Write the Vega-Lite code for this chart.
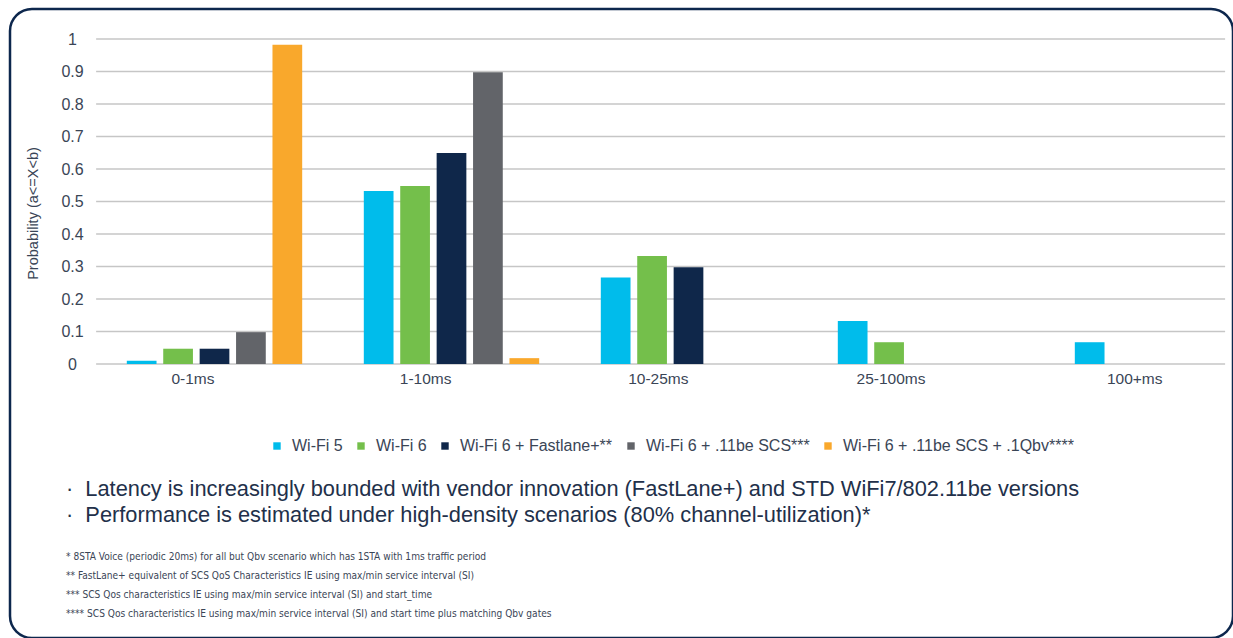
{
  "$schema": "https://vega.github.io/schema/vega-lite/v6.json",
  "width": 1223,
  "height": 629,
  "autosize": {"type": "none"},
  "padding": {"left": 10, "top": 9, "right": 0, "bottom": 0},
  "background": "white",
  "config": {
    "view": {"stroke": "#0D274D", "strokeWidth": 2.5, "cornerRadius": 22},
    "font": "Liberation Sans"
  },
  "title": {
    "text": [
      "·\u00a0\u00a0Latency is increasingly bounded with vendor innovation (FastLane+) and STD WiFi7/802.11be versions",
      "·\u00a0\u00a0Performance is estimated under high-density scenarios (80% channel-utilization)*"
    ],
    "subtitle": [
      "* 8STA Voice (periodic 20ms) for all but Qbv scenario which has 1STA with 1ms traffic period",
      "** FastLane+ equivalent of SCS QoS Characteristics IE using max/min service interval (SI)",
      "*** SCS Qos characteristics IE using max/min service interval (SI) and start_time",
      "**** SCS Qos characteristics IE using max/min service interval (SI) and start time plus matching Qbv gates"
    ],
    "orient": "bottom",
    "anchor": "start",
    "frame": "group",
    "offset": -159,
    "dx": 56,
    "fontSize": 21.8,
    "fontWeight": "normal",
    "color": "#22304a",
    "lineHeight": 26,
    "subtitleFont": "DejaVu Sans Condensed, Liberation Sans",
    "subtitleFontSize": 10.1,
    "subtitleColor": "#3a4556",
    "subtitleLineHeight": 19,
    "subtitlePadding": 25
  },
  "layer": [
    {
      "data": {"values": [
        {"tick": 0}, {"tick": 0.1}, {"tick": 0.2}, {"tick": 0.3}, {"tick": 0.4}, {"tick": 0.5},
        {"tick": 0.6}, {"tick": 0.7}, {"tick": 0.8}, {"tick": 0.9}, {"tick": 1}
      ]},
      "mark": {"type": "rule", "color": "#c6c6c6", "strokeWidth": 1.5},
      "encoding": {
        "y": {
          "field": "tick",
          "type": "quantitative",
          "scale": {"domain": [0, 1], "range": [355, 30]},
          "axis": {
            "title": "Probability (a<=X<b)",
            "values": [0, 0.1, 0.2, 0.3, 0.4, 0.5, 0.6, 0.7, 0.8, 0.9, 1],
            "format": ".1~f",
            "grid": false,
            "domain": false,
            "ticks": false,
            "offset": -86,
            "labelAlign": "center",
            "labelPadding": 24,
            "labelFontSize": 16,
            "labelColor": "#3a4556",
            "titleFontSize": 14.5,
            "titleFontWeight": "normal",
            "titleColor": "#3a4556",
            "titleAngle": -90,
            "titleAlign": "center",
            "titleBaseline": "bottom",
            "titleX": -56,
            "titleY": 204
          }
        },
        "x": {"datum": "0-1ms", "bandPosition": -0.175},
        "x2": {"datum": "100+ms", "bandPosition": 0.857}
      }
    },
    {
      "data": {"values": [
        {"range": "0-1ms", "series": "Wi-Fi 5", "value": 0.01},
        {"range": "0-1ms", "series": "Wi-Fi 6", "value": 0.047},
        {"range": "0-1ms", "series": "Wi-Fi 6 + Fastlane+**", "value": 0.047},
        {"range": "0-1ms", "series": "Wi-Fi 6 + .11be SCS***", "value": 0.098},
        {"range": "0-1ms", "series": "Wi-Fi 6 + .11be SCS + .1Qbv****", "value": 0.982},
        {"range": "1-10ms", "series": "Wi-Fi 5", "value": 0.532},
        {"range": "1-10ms", "series": "Wi-Fi 6", "value": 0.548},
        {"range": "1-10ms", "series": "Wi-Fi 6 + Fastlane+**", "value": 0.649},
        {"range": "1-10ms", "series": "Wi-Fi 6 + .11be SCS***", "value": 0.898},
        {"range": "1-10ms", "series": "Wi-Fi 6 + .11be SCS + .1Qbv****", "value": 0.018},
        {"range": "10-25ms", "series": "Wi-Fi 5", "value": 0.266},
        {"range": "10-25ms", "series": "Wi-Fi 6", "value": 0.332},
        {"range": "10-25ms", "series": "Wi-Fi 6 + Fastlane+**", "value": 0.298},
        {"range": "25-100ms", "series": "Wi-Fi 5", "value": 0.132},
        {"range": "25-100ms", "series": "Wi-Fi 6", "value": 0.067},
        {"range": "100+ms", "series": "Wi-Fi 5", "value": 0.067}
      ]},
      "mark": {"type": "bar"},
      "encoding": {
        "x": {
          "field": "range",
          "type": "nominal",
          "scale": {
            "domain": ["0-1ms", "1-10ms", "10-25ms", "25-100ms", "100+ms"],
            "range": [86, 1271],
            "paddingInner": 0.26,
            "paddingOuter": 0.13
          },
          "axis": {
            "title": null,
            "domain": false,
            "ticks": false,
            "grid": false,
            "offset": -274,
            "labelPadding": 14,
            "labelFontSize": 15.5,
            "labelColor": "#3a4556",
            "labelAngle": 0
          }
        },
        "xOffset": {
          "field": "series",
          "type": "nominal",
          "scale": {
            "domain": ["Wi-Fi 5", "Wi-Fi 6", "Wi-Fi 6 + Fastlane+**", "Wi-Fi 6 + .11be SCS***", "Wi-Fi 6 + .11be SCS + .1Qbv****"],
            "paddingInner": 0.184,
            "paddingOuter": 0
          }
        },
        "y": {
          "field": "value",
          "type": "quantitative"
        },
        "color": {
          "field": "series",
          "type": "nominal",
          "scale": {
            "domain": ["Wi-Fi 5", "Wi-Fi 6", "Wi-Fi 6 + Fastlane+**", "Wi-Fi 6 + .11be SCS***", "Wi-Fi 6 + .11be SCS + .1Qbv****"],
            "range": ["#00BCEB", "#74BF4B", "#0F274A", "#626469", "#F9A82C"]
          },
          "legend": {
            "orient": "none",
            "legendX": 259,
            "legendY": 429,
            "direction": "horizontal",
            "columns": 5,
            "title": null,
            "symbolType": "square",
            "symbolSize": 55,
            "symbolStrokeWidth": 0,
            "labelFontSize": 16,
            "labelLimit": 400,
            "labelColor": "#3a4556",
            "labelOffset": 7,
            "columnPadding": 10
          }
        }
      }
    }
  ]
}
